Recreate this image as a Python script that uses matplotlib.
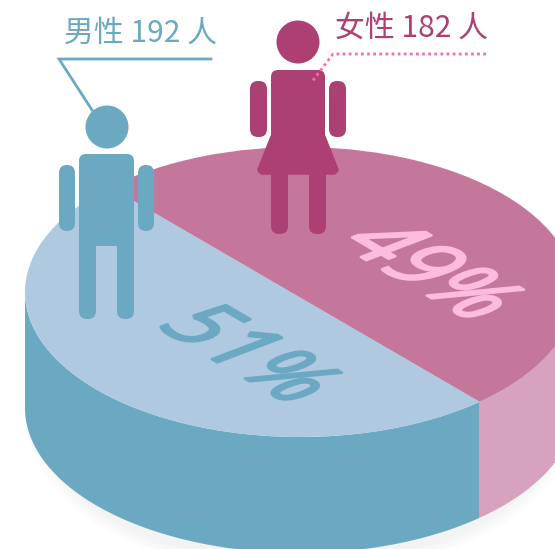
import numpy as np
import matplotlib
matplotlib.use('Agg')
import matplotlib.pyplot as plt
from matplotlib.patches import Circle, Ellipse, FancyBboxPatch, PathPatch, Polygon
from matplotlib.path import Path
from matplotlib.patheffects import AbstractPathEffect
from matplotlib.transforms import Affine2D

plt.rcParams['font.family'] = ['Noto Sans CJK SC', 'DejaVu Sans']

# values
groups = ['男性', '女性']
counts = [192, 182]
percent_labels = ['51%', '49%']
# slice sizes as drawn in the picture (fraction of the full turn)
drawn_fractions = [0.492, 0.508]

BLUE = '#6ba8c1'
BLUE_TOP = '#afcae0'
PINK = '#ac4072'
PINK_TOP = '#c5779b'
PINK_SIDE = '#d6a2bd'
PINK_TEXT = '#fdbbdd'
PINK_DOTS = '#f76bb0'

W, H = 555, 549
CX, CY, RX, RY = 300, 292, 275, 145
DEPTH = 116
SPLIT_ANGLE = -49.2


class Skew(AbstractPathEffect):
    """Lay a text flat on the disc by shearing it around its anchor"""
    def __init__(self, px, py, matrix, stroke):
        super().__init__()
        self.stroke = stroke
        self.extra = (Affine2D().translate(-px, -py)
                      + Affine2D.from_values(matrix[0], matrix[1], matrix[2], matrix[3], 0, 0)
                      + Affine2D().translate(px, py))

    def draw_path(self, renderer, gc, tpath, affine, rgbFace=None):
        gc0 = renderer.new_gc()
        gc0.copy_properties(gc)
        gc0.set_linewidth(self.stroke)
        gc0.set_foreground(rgbFace)
        gc0.set_joinstyle('round')
        gc0.set_capstyle('round')
        renderer.draw_path(gc0, tpath, affine + self.extra, rgbFace)
        gc0.restore()


def rounded(ax, x0, y0, x1, y1, r, color):
    ax.add_patch(FancyBboxPatch((x0 + r, y0 + r), x1 - x0 - 2 * r, y1 - y0 - 2 * r,
                                boxstyle=f'round,pad={r},rounding_size={r}',
                                fc=color, ec='none'))


def side_wall(ax, t1, t2, color):
    t = np.radians(np.linspace(t1, t2, 200))
    x = CX + RX * np.cos(t)
    y = CY - RY * np.sin(t)
    pts = np.vstack([np.column_stack([x, y]),
                     np.column_stack([x, y + DEPTH])[::-1]])
    ax.add_patch(Polygon(pts, closed=True, fc=color, ec='none'))


def disc_slice(ax, t1, t2, color):
    # the y axis points down, so a plain scale turns the arc the right way
    disc = Affine2D().scale(RX, RY).translate(CX, CY) + ax.transData
    arc = Path.arc(t1, t2)
    verts = np.vstack([arc.vertices, arc.vertices[0]])
    codes = list(arc.codes) + [Path.CLOSEPOLY]
    ax.add_patch(PathPatch(Path(verts, codes), fc=color, ec='none', transform=disc))


def draw_man(ax, hx, color):
    ax.add_patch(Circle((hx, 127), 21.5, fc=color, ec='none'))
    rounded(ax, hx - 28, 154, hx + 27, 246, 7, color)
    rounded(ax, hx - 28, 225, hx - 11, 319, 8, color)
    rounded(ax, hx + 10, 225, hx + 27, 319, 8, color)
    rounded(ax, hx - 48, 165, hx - 32, 231, 8, color)
    rounded(ax, hx + 31, 165, hx + 47, 231, 8, color)


def draw_woman(ax, hx, color):
    ax.add_patch(Circle((hx, 42), 21.5, fc=color, ec='none'))
    rounded(ax, hx - 27, 70, hx + 27, 150, 7, color)
    ax.add_patch(Polygon([(hx - 25, 137), (hx + 25, 137), (hx + 38, 170), (hx + 36, 172),
                          (hx - 36, 172), (hx - 38, 170)], closed=True, fc=color, ec=color,
                         lw=4, joinstyle='round'))
    rounded(ax, hx - 27, 165, hx - 10, 234, 8, color)
    rounded(ax, hx + 11, 165, hx + 28, 234, 8, color)
    rounded(ax, hx - 48, 81, hx - 31, 137, 8, color)
    rounded(ax, hx + 31, 81, hx + 48, 137, 8, color)


def main():
    fig = plt.figure(figsize=(W / 100, H / 100), dpi=100)
    ax = fig.add_axes([0, 0, 1, 1])
    ax.set_xlim(0, W)
    ax.set_ylim(H, 0)
    ax.axis('off')

    # faint shadow under the disc
    for grow, alpha in [(0, 0.012), (8, 0.012), (16, 0.012), (24, 0.01)]:
        ax.add_patch(Ellipse((CX, CY + DEPTH + 12), 2 * RX - 30 + grow, 2 * RY + grow,
                             fc='black', ec='none', alpha=alpha))

    # side of the disc
    side_wall(ax, -180, SPLIT_ANGLE, BLUE)
    side_wall(ax, SPLIT_ANGLE, SPLIT_ANGLE + 60, PINK_SIDE)

    # top of the disc, angles in the flipped frame of the axes
    start = -SPLIT_ANGLE
    disc_slice(ax, start, start + drawn_fractions[0] * 360, BLUE_TOP)
    disc_slice(ax, start - drawn_fractions[1] * 360, start, PINK_TOP)

    draw_man(ax, 107, BLUE)
    draw_woman(ax, 298, PINK)

    # callouts
    ax.plot([211, 59, 92], [59, 59, 110], color=BLUE, lw=2, solid_joinstyle='miter')
    ax.plot([486, 333, 311], [54, 54, 83], color=PINK_DOTS, lw=2, linestyle=(0, (1, 1.2)))
    ax.text(64, 33, f'{groups[0]} {counts[0]} 人', color=BLUE, fontsize=21.5, va='center', ha='left')
    ax.text(335, 28, f'{groups[1]} {counts[1]} 人', color=PINK, fontsize=21.5, va='center', ha='left')

    # percent labels lying on the disc
    flat = (0.72, -0.42, 0.95, 0.36)
    for label, color, (x, y) in [(percent_labels[0], BLUE, (245, 356)),
                                 (percent_labels[1], PINK_TEXT, (427, 273))]:
        px, py = ax.transData.transform((x, y))
        ax.text(x, y, label, color=color, fontsize=69, family=['Open Sans', 'DejaVu Sans'],
                ha='center', va='center', path_effects=[Skew(px, py, flat, 1.8)])

    fig.savefig('out.png', dpi=100)
    plt.close(fig)


if __name__ == "__main__":
    main()
